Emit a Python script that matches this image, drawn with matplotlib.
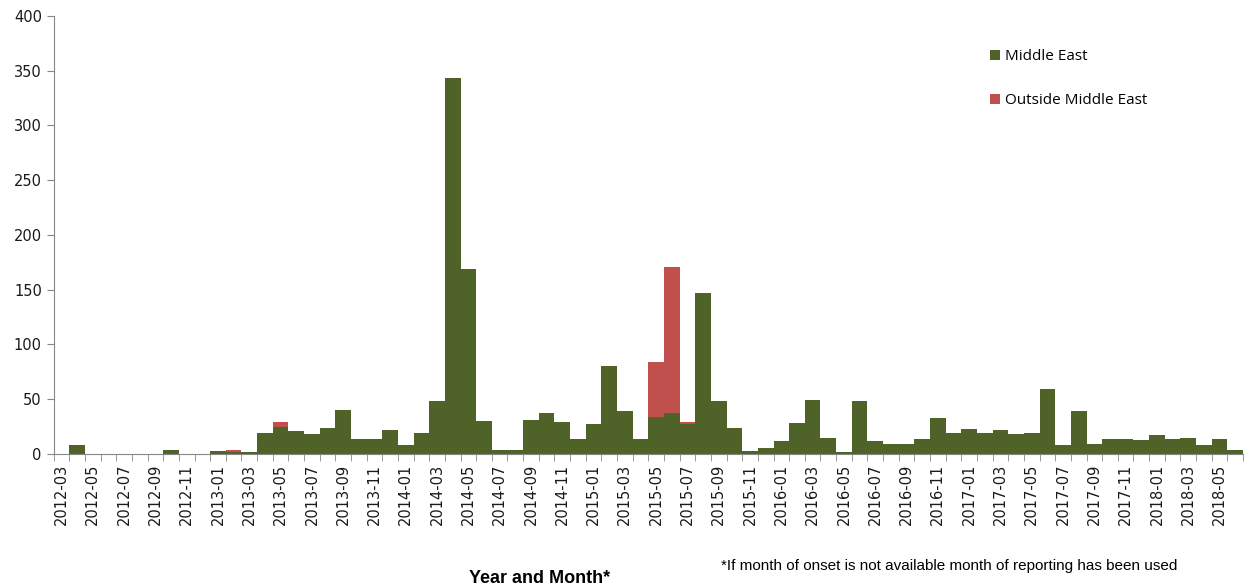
import numpy as np
import pandas as pd
import matplotlib
matplotlib.use("Agg")
import matplotlib.pyplot as plt

months = [str(p) for p in pd.period_range("2012-03", "2018-06", freq="M")]

middle_east = [
    0, 8, 0, 0, 0, 0, 0, 4, 0, 0,            # 2012-03 .. 2012-12
    3, 2, 2, 19, 25, 21, 18, 24, 40, 14, 14, 22,   # 2013
    8, 19, 48, 343, 169, 30, 4, 4, 31, 37, 29, 14,  # 2014
    27, 80, 39, 14, 34, 37, 27, 147, 48, 24, 3, 5,  # 2015
    12, 28, 49, 15, 2, 48, 12, 9, 9, 14, 33, 19,    # 2016
    23, 19, 22, 18, 19, 59, 8, 39, 9, 14, 14, 13,   # 2017
    17, 14, 15, 8, 14, 4,                           # 2018
]
outside_middle_east = [
    0, 0, 0, 0, 0, 0, 0, 0, 0, 0,
    0, 2, 0, 0, 4, 0, 0, 0, 0, 0, 0, 0,
    0, 0, 0, 0, 0, 0, 0, 0, 0, 0, 0, 0,
    0, 0, 0, 0, 50, 134, 2, 0, 0, 0, 0, 0,
    0, 0, 0, 0, 0, 0, 0, 0, 0, 0, 0, 0,
    0, 0, 0, 0, 0, 0, 0, 0, 0, 0, 0, 0,
    0, 0, 0, 0, 0, 0,
]

green = "#4F6228"
red = "#C0504D"
grey = "#868686"

fig = plt.figure(figsize=(12.48, 5.88), dpi=100)
ax = fig.add_axes([0.043, 0.228, 0.953, 0.745])

x = np.arange(len(months))
ax.bar(x, middle_east, width=1.0, color=green, linewidth=0, label="Middle East")
ax.bar(x, outside_middle_east, width=1.0, bottom=middle_east, color=red,
       linewidth=0, label="Outside Middle East")

ax.set_xlim(-0.5, len(months) - 0.5)
ax.set_ylim(0, 400)
ax.set_yticks(np.arange(0, 401, 50))

ax.set_xticks(x[::2])
ax.set_xticklabels(months[::2], rotation=90, fontsize=10.5, color="#1a1a1a")
ax.set_xticks(np.arange(-0.5, len(months)), minor=True)
ax.tick_params(axis="x", which="major", length=0, pad=7)
ax.tick_params(axis="x", which="minor", length=5, color=grey)
ax.tick_params(axis="y", length=5, color=grey, labelsize=10.5, labelcolor="#1a1a1a")

for side in ["top", "right"]:
    ax.spines[side].set_visible(False)
for side in ["left", "bottom"]:
    ax.spines[side].set_color(grey)

ax.legend(loc="upper left", bbox_to_anchor=(0.776, 0.955), frameon=False,
          handlelength=0.6, handleheight=0.6, handletextpad=0.35,
          labelspacing=1.9, prop={"family": "Open Sans", "size": 11})

fig.text(0.432, 0.017, "Year and Month*", fontsize=13, fontweight="bold",
         family="Liberation Sans", ha="center", va="center")
fig.text(0.578, 0.037, "*If month of onset is not available month of reporting has been used",
         fontsize=11, family="Liberation Sans", ha="left", va="center")

fig.savefig("out.png", dpi=100)
